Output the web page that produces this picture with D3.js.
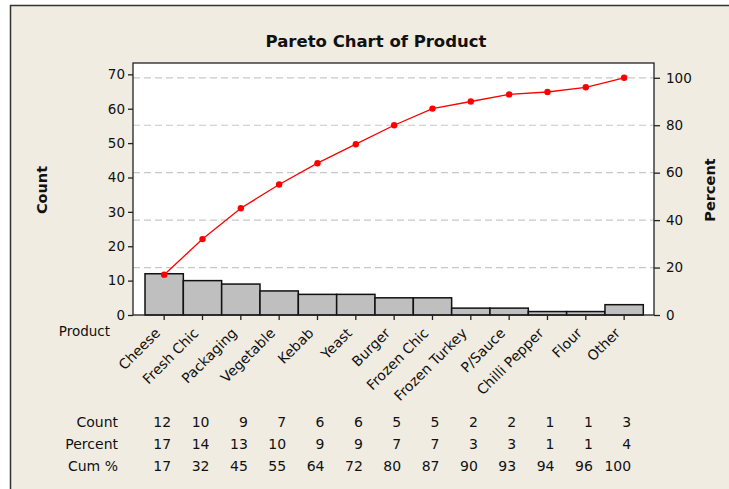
<!DOCTYPE html>
<html lang="en">
<head>
<meta charset="UTF-8">
<title>Pareto Chart of Product</title>
<script src="https://d3js.org/d3.v7.min.js"></script>
<style>
    body { margin: 0; background: #fff; }
    svg text { font-family: "DejaVu Sans", sans-serif; fill: #111; }
    .axis path, .axis line { stroke: #222; stroke-width: 1.3; }
    .axis text { font-size: 13.5px; font-family: "DejaVu Sans", sans-serif; }
    .grid { stroke: #c8c8c8; stroke-dasharray: 7,4; stroke-width: 1.2; }
</style>
</head>
<body>
<script>
    // Data
    const products = ["Cheese", "Fresh Chic", "Packaging", "Vegetable", "Kebab", "Yeast", "Burger",
        "Frozen Chic", "Frozen Turkey", "P/Sauce", "Chilli Pepper", "Flour", "Other"];
    const counts = [12, 10, 9, 7, 6, 6, 5, 5, 2, 2, 1, 1, 3];
    const percents = [17, 14, 13, 10, 9, 9, 7, 7, 3, 3, 1, 1, 4];
    const cumPercents = [17, 32, 45, 55, 64, 72, 80, 87, 90, 93, 94, 96, 100];
    const countTicks = [0, 10, 20, 30, 40, 50, 60, 70];
    const percentTicks = [0, 20, 40, 60, 80, 100];

    const width = 729, height = 489;
    const plot = { left: 133, right: 654, top: 63, bottom: 315 };
    const total = d3.sum(counts);

    const svg = d3.select("body").append("svg")
        .attr("width", width)
        .attr("height", height);

    // beige background with a dark edge at top and left
    svg.append("rect")
        .attr("x", 10.5).attr("y", 5.5)
        .attr("width", width).attr("height", height)
        .attr("fill", "#f0ece2");
    svg.append("path")
        .attr("d", `M10.5,${height} V5.5 H${width}`)
        .attr("fill", "none").attr("stroke", "#333").attr("stroke-width", 1.5);

    // scales
    const x = d3.scaleBand()
        .domain(products)
        .range([145, 643.3])
        .padding(0);

    const yCount = d3.scaleLinear()
        .domain([0, 73.3])
        .range([plot.bottom, plot.top]);

    // 100% lines up with the total count
    const yPct = d3.scaleLinear()
        .domain([0, 100])
        .range([yCount(0), yCount(total)]);

    // plot area
    svg.append("rect")
        .attr("x", plot.left).attr("y", plot.top)
        .attr("width", plot.right - plot.left)
        .attr("height", plot.bottom - plot.top)
        .attr("fill", "#fff");

    // dashed reference lines at the percent ticks
    svg.selectAll(".grid")
        .data(percentTicks.filter(d => d > 0))
        .enter().append("line")
        .attr("class", "grid")
        .attr("x1", plot.left).attr("x2", plot.right)
        .attr("y1", d => yPct(d)).attr("y2", d => yPct(d));

    // bars
    svg.selectAll(".bar")
        .data(products)
        .enter().append("rect")
        .attr("class", "bar")
        .attr("x", d => x(d))
        .attr("y", (d, i) => yCount(counts[i]))
        .attr("width", x.bandwidth())
        .attr("height", (d, i) => yCount(0) - yCount(counts[i]))
        .attr("fill", "#bfbfbf")
        .attr("stroke", "#111")
        .attr("stroke-width", 1.5);

    // cumulative line
    const line = d3.line()
        .x((d, i) => x(products[i]) + x.bandwidth() / 2)
        .y(d => yPct(d));

    svg.append("path")
        .datum(cumPercents)
        .attr("fill", "none")
        .attr("stroke", "#ff0000")
        .attr("stroke-width", 1.3)
        .attr("d", line);

    svg.selectAll(".dot")
        .data(cumPercents)
        .enter().append("circle")
        .attr("class", "dot")
        .attr("cx", (d, i) => x(products[i]) + x.bandwidth() / 2)
        .attr("cy", d => yPct(d))
        .attr("r", 3.2)
        .attr("fill", "#ff0000");

    // frame
    svg.append("rect")
        .attr("x", plot.left).attr("y", plot.top)
        .attr("width", plot.right - plot.left)
        .attr("height", plot.bottom - plot.top)
        .attr("fill", "none")
        .attr("stroke", "#222")
        .attr("stroke-width", 1.3);

    // axes
    svg.append("g")
        .attr("class", "axis")
        .attr("transform", `translate(${plot.left},0)`)
        .call(d3.axisLeft(yCount).tickValues(countTicks).tickSize(5).tickPadding(3).tickSizeOuter(0))
        .call(g => g.select(".domain").remove());

    svg.append("g")
        .attr("class", "axis")
        .attr("transform", `translate(${plot.right},0)`)
        .call(d3.axisRight(yPct).tickValues(percentTicks).tickSize(6).tickPadding(6).tickSizeOuter(0))
        .call(g => g.select(".domain").remove());

    const xAxis = svg.append("g")
        .attr("class", "axis")
        .attr("transform", `translate(0,${plot.bottom})`)
        .call(d3.axisBottom(x).tickSize(5).tickSizeOuter(0))
        .call(g => g.select(".domain").remove());

    xAxis.selectAll("text")
        .attr("text-anchor", "end")
        .attr("dy", null)
        .attr("x", 0)
        .attr("y", 0)
        .attr("transform", "translate(-3,19) rotate(-45)")
        .style("font-size", "14px");

    // axis titles
    svg.append("text")
        .attr("transform", `translate(47,190) rotate(-90)`)
        .attr("text-anchor", "middle")
        .style("font-weight", "bold")
        .style("font-size", "14.5px")
        .text("Count");

    svg.append("text")
        .attr("transform", `translate(715,190) rotate(-90)`)
        .attr("text-anchor", "middle")
        .style("font-weight", "bold")
        .style("font-size", "14.5px")
        .text("Percent");

    svg.append("text")
        .attr("x", 110).attr("y", 336)
        .attr("text-anchor", "end")
        .style("font-size", "13.5px")
        .text("Product");

    // title
    svg.append("text")
        .attr("x", 376).attr("y", 47)
        .attr("text-anchor", "middle")
        .style("font-weight", "bold")
        .style("font-size", "16.5px")
        .text("Pareto Chart of Product");

    // table under the chart, columns right-aligned just past each bar centre
    const rows = [
        { label: "Count", values: counts, y: 427 },
        { label: "Percent", values: percents, y: 449 },
        { label: "Cum %", values: cumPercents, y: 471 }
    ];

    rows.forEach(row => {
        svg.append("text")
            .attr("x", 118).attr("y", row.y)
            .attr("text-anchor", "end")
            .style("font-size", "14px")
            .text(row.label);

        svg.selectAll(null)
            .data(row.values)
            .enter().append("text")
            .attr("x", (d, i) => x(products[i]) + x.bandwidth() / 2 + 7)
            .attr("y", row.y)
            .attr("text-anchor", "end")
            .style("font-size", "14px")
            .text(d => d);
    });
</script>
</body>
</html>
